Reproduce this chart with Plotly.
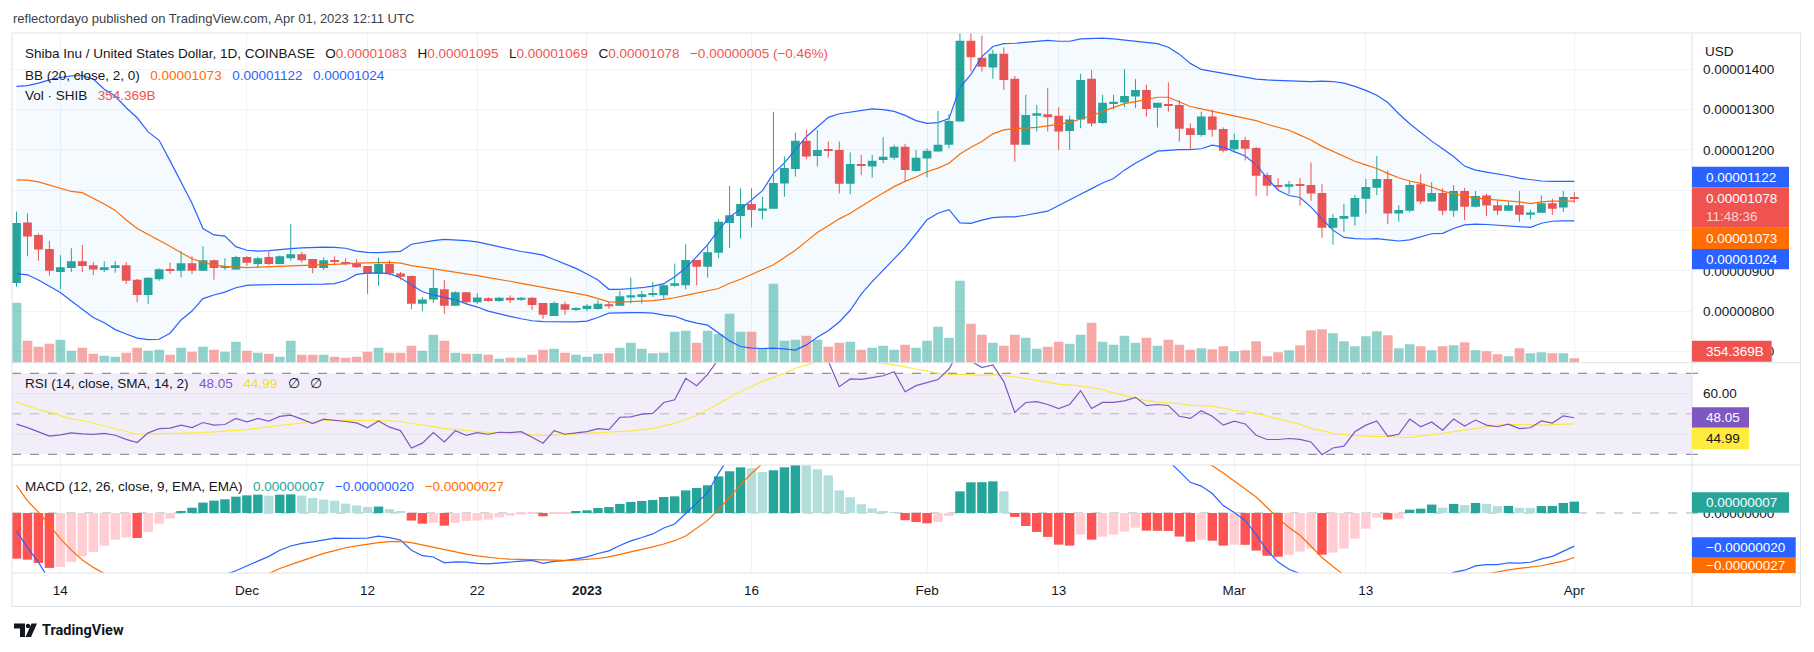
import plotly.graph_objects as go
import pandas as pd

# ---------------- data (prices in units of 1e-8 USD) ----------------
DATES = pd.date_range("2022-11-10", "2023-04-01", freq="D")
PRICE_UNIT = 1e-8

OPEN = [870,1020,989,954,897,907,924,914,902,907,914,878,840,879,904,900,919,900,926,907,
        903,934,917,934,917,931,941,929,907,927,922,919,912,893,917,893,887,818,829,854,
        813,847,822,832,825,833,828,833,820,788,817,803,805,805,817,813,834,835,840,839,
        863,864,927,910,945,1019,1036,1066,1049,1054,1117,1153,1223,1185,1201,1200,1116,1165,1159,1175,
        1181,1208,1148,1179,1196,1213,1271,1471,1429,1405,1439,1377,1213,1285,1289,1285,1247,1276,1377,1267,
        1316,1318,1333,1349,1305,1313,1312,1254,1237,1283,1252,1202,1225,1205,1138,1113,1109,1115,1113,1093,
        1007,1029,1034,1079,1106,1128,1042,1049,1115,1072,1093,1049,1098,1059,1087,1063,1049,1063,1039,1044,
        1068,1057,1083]
HIGH = [1047,1043,993,974,939,956,964,922,924,924,922,880,884,906,920,949,936,961,928,931,
        937,937,935,948,938,1016,947,929,933,936,931,929,912,933,926,897,888,835,902,877,
        849,847,844,835,835,839,835,835,820,824,823,810,817,827,823,850,883,850,872,867,
        918,966,927,966,1028,1111,1105,1105,1084,1295,1184,1243,1250,1250,1221,1221,1194,1188,1188,1232,
        1213,1215,1200,1204,1297,1289,1500,1500,1484,1449,1455,1384,1337,1312,1354,1306,1285,1389,1399,1337,
        1337,1401,1376,1362,1317,1368,1324,1266,1295,1300,1256,1241,1232,1208,1144,1130,1123,1130,1169,1115,
        1041,1066,1088,1128,1185,1148,1063,1123,1140,1120,1105,1113,1106,1098,1091,1076,1072,1098,1051,1087,
        1079,1098,1095]
LOW = [860,936,925,888,854,897,897,889,897,895,867,822,818,875,892,884,892,900,878,902,
       902,912,908,914,917,925,920,894,902,914,914,907,843,863,888,878,805,800,820,793,
       813,818,818,823,823,820,825,803,781,788,791,800,800,803,806,813,819,819,835,830,
       860,854,864,883,931,957,980,1008,1028,1054,1084,1134,1177,1159,1181,1092,1090,1138,1131,1167,
       1175,1121,1146,1132,1196,1204,1271,1395,1395,1377,1349,1171,1213,1246,1246,1200,1200,1254,1258,1265,
       1301,1306,1304,1283,1256,1295,1221,1200,1233,1233,1194,1193,1174,1086,1086,1099,1091,1062,1074,982,
       965,997,1012,1042,1088,1016,1022,1045,1066,1072,1038,1034,1026,1057,1036,1038,1049,1022,1028,1044,
       1039,1046,1069]
CLOSE = [1019,985,953,900,909,924,912,903,909,914,875,840,883,904,900,919,900,926,907,910,
         934,920,931,917,936,941,926,907,926,922,917,909,893,917,893,885,818,829,857,813,
         847,822,834,825,833,827,833,815,791,820,803,807,813,818,812,837,839,842,842,864,
         869,927,910,946,1022,1038,1066,1051,1055,1118,1155,1223,1184,1200,1199,1116,1165,1161,1173,1183,
         1208,1150,1181,1198,1213,1272,1471,1430,1407,1439,1374,1213,1287,1291,1281,1246,1276,1374,1266,1317,
         1320,1334,1349,1302,1317,1310,1253,1237,1283,1250,1198,1225,1203,1136,1111,1109,1115,1111,1092,1007,
         1031,1036,1081,1108,1128,1042,1051,1113,1072,1093,1049,1098,1059,1086,1062,1049,1063,1039,1045,1068,
         1054,1083,1078]
VOLUME_B = [4914,1802,1310,1556,1884,983,1229,737,573,491,819,1229,983,1065,655,1229,901,1310,1065,901,
            1720,983,819,737,491,1802,655,655,655,491,410,491,901,1229,819,819,1392,983,2293,1802,
            819,737,737,655,328,410,410,655,1065,1147,819,655,491,737,764,1229,1638,1147,764,819,
            2539,2621,1638,2621,2348,4013,2539,2539,1147,6470,1802,1884,2211,1884,1310,1638,1720,1065,1229,1392,
            1065,1474,1229,1802,2948,2048,6716,3194,2293,1638,1392,2293,2048,1147,1310,1720,1556,2293,3276,1720,
            1474,2211,1638,2048,1392,1884,1474,1065,1174,1092,1338,928,1010,1747,519,846,1010,1420,2648,2730,
            2402,1747,1338,2157,2566,2239,1174,1502,1338,1010,1338,1420,1665,1010,928,683,519,1174,764,846,
            764,764,354.369]
BB_UPPER = [1358,1360,1366,1374,1380,1384,1385,1376,1351,1334,1305,1280,1245,1224,1173,1120,1068,1005,989,986,
            960,951,949,950,953,955,957,958,959,958,956,949,946,945,946,948,966,971,975,978,
            977,975,972,966,960,953,948,944,939,928,917,906,892,877,854,854,856,858,862,868,
            885,907,935,965,1001,1034,1053,1075,1099,1142,1168,1201,1233,1257,1281,1290,1294,1299,1302,1300,
            1296,1286,1273,1266,1268,1278,1355,1388,1432,1457,1464,1465,1467,1470,1472,1470,1470,1476,1477,1478,
            1476,1473,1469,1467,1464,1455,1438,1415,1400,1395,1390,1385,1380,1376,1374,1373,1372,1370,1370,1371,
            1370,1366,1358,1348,1336,1318,1290,1265,1243,1222,1203,1184,1160,1150,1145,1141,1136,1130,1126,1123,
            1122,1122,1122]
BB_BASIS = [1126,1125,1121,1113,1106,1097,1094,1081,1066,1050,1026,1005,991,977,961,945,930,921,914,911,
            909,908,909,910,911,912,913,913,914,915,917,919,920,921,921,919,913,909,905,901,
            897,892,888,883,879,874,869,864,859,854,850,845,839,831,823,822,823,824,826,829,
            833,839,845,851,856,869,879,891,904,915,933,951,973,995,1012,1029,1043,1061,1077,1093,
            1109,1122,1133,1146,1155,1167,1190,1207,1221,1240,1250,1253,1254,1256,1260,1264,1268,1277,1285,1296,
            1306,1315,1320,1325,1331,1331,1320,1308,1302,1296,1290,1284,1279,1273,1264,1256,1249,1237,1225,1209,
            1196,1183,1172,1163,1154,1142,1131,1123,1117,1108,1098,1091,1086,1081,1078,1076,1074,1071,1067,1071,
            1073,1073,1073]
BB_LOWER = [893,890,877,862,846,825,804,784,771,754,743,733,729,730,745,778,800,831,840,847,
            858,864,865,866,866,866,866,867,867,868,876,891,894,895,893,882,865,848,840,834,
            828,818,810,800,793,787,781,776,774,774,773,773,775,784,795,796,796,796,795,790,
            787,777,770,765,745,726,712,708,707,708,706,703,716,735,751,773,802,842,873,902,
            930,958,992,1027,1043,1052,1019,1018,1026,1032,1034,1034,1038,1043,1048,1062,1075,1090,1104,1118,
            1129,1150,1167,1183,1197,1199,1201,1201,1203,1212,1207,1196,1185,1163,1130,1100,1087,1082,1058,1029,
            1001,983,980,979,980,977,974,977,985,992,993,1005,1014,1016,1015,1013,1011,1009,1008,1018,
            1023,1024,1024]
RSI = [44.9,43.2,41.1,39.0,39.6,40.6,40.1,39.8,40.3,39.4,37.4,35.8,40.6,42.7,42.9,44.4,43.2,45.7,44.4,44.7,
       47.7,46.0,47.7,46.4,48.7,49.3,47.4,45.2,47.4,46.9,46.2,45.5,43.1,46.5,43.4,41.7,33.1,35.5,40.7,36.1,
       41.6,39.4,40.7,39.9,40.9,40.7,41.2,38.4,35.5,41.7,39.9,40.6,41.2,42.7,42.2,48.3,48.5,49.8,50.2,55.6,
       56.9,67.5,63.9,69.5,77,79,81,79,79,85,86,88,83,82,76,63.4,67.2,67.0,67.9,68.8,
       70.8,60.9,63.9,65.5,66.9,72.1,82,76,72.8,74.1,65.9,50.7,55.6,56.0,54.6,52.6,54.6,61.4,52.6,55.6,
       55.6,56.4,58.1,54.0,54.6,54.1,48.8,47.7,51.5,48.8,44.4,46.4,45.0,39.4,37.3,37.3,37.8,37.4,36.1,29.8,
       33.1,34.0,41.1,44.4,46.5,38.9,39.9,47.4,43.6,46.0,41.9,47.4,44.0,46.9,44.4,43.6,44.9,42.7,43.1,46.5,
       45.4,49.0,48.05]
RSI_MA = [55.8,54.0,52.1,50.8,49.0,47.4,46.7,45.4,44.0,42.7,41.2,39.9,40.1,40.2,40.2,40.4,40.6,40.7,41.1,41.4,
          41.7,42.2,42.9,43.5,44.4,45.0,45.5,46.2,46.7,46.9,46.9,46.9,46.9,46.7,46.5,46.2,45.2,44.5,43.7,42.7,
          42.2,41.7,41.2,40.9,40.7,40.6,40.4,39.6,39.2,39.5,39.8,40.0,40.2,40.4,40.7,41.1,41.6,42.2,42.8,44.0,
          45.3,47.2,49.3,52.0,55.0,58.0,61.0,63.5,66.0,68.0,70.0,72.5,74.2,75.6,76.5,77.0,77.0,76.5,75.8,75.0,
          74.2,73.2,72.0,71.2,70.0,69.5,69.5,69.3,68.8,69.3,68.9,68.3,67.3,66.3,65.6,64.7,64.2,63.8,62.9,61.9,
          60.3,59.0,57.7,56.5,55.8,55.5,55.0,54.3,54.1,53.8,52.8,51.7,51.0,50.2,48.8,47.5,46.2,44.8,42.7,41.7,
          40.3,39.6,39.2,39.0,38.8,38.6,38.2,38.3,39.0,39.6,40.4,41.2,41.8,42.7,43.6,44.4,44.8,44.6,44.4,44.4,
          44.7,45.0,44.99]
MACD = [-11.0,-21.0,-29.8,-40.8,-48.2,-52.2,-54.8,-56.6,-56.8,-56.7,-57.9,-60.2,-58.0,-53.8,-51.0,-46.3,-44.1,-40.5,-38.8,-37.5,
        -35.0,-32.3,-29.2,-26.3,-22.6,-20.0,-18.4,-17.5,-16.4,-15.3,-15.4,-15.3,-15.2,-14.1,-15.0,-16.4,-22.6,-25.9,-26.7,-30.2,
        -29.7,-29.8,-30.6,-30.9,-30.2,-29.6,-29.2,-28.8,-30.5,-29.3,-28.9,-27.8,-26.6,-24.6,-23.0,-19.7,-16.9,-14.9,-12.7,-9.1,
        -6.7,-0.3,5.7,12.3,24.2,35.0,44.7,51.1,54.8,61.9,69.7,78.5,85.0,88.5,90.8,85.7,83.5,81.3,79.8,78.7,
        77.9,72.1,69.5,67.2,66.5,69.7,87.1,96.6,100.7,105.2,102.1,86.1,78.6,72.5,65.0,56.3,51.2,53.9,46.8,45.2,
        42.9,41.7,41.6,37.3,34.7,31.6,25.2,18.6,16.3,11.8,4.5,0.3,-4.5,-13.1,-22.6,-29.8,-34.1,-36.9,-41.8,-52.3,
        -56.5,-59.1,-56.6,-53.0,-47.3,-49.0,-48.7,-43.0,-42.1,-38.7,-39.8,-36.0,-34.7,-32.1,-31.3,-31.3,-30.2,-30.4,-29.9,-27.8,
        -26.3,-23.1,-20.1]
SIGNAL = [16.7,7.3,0.5,-7.5,-15.5,-22.5,-28.5,-33.0,-37.0,-40.5,-43.0,-45.0,-46.5,-47.3,-47.6,-47.5,-47.3,-46.8,-46.3,-45.8,
          -44.9,-43.0,-40.3,-36.8,-33.7,-31.3,-28.9,-26.6,-24.5,-22.8,-21.1,-19.9,-18.9,-18.0,-17.4,-17.2,-18.0,-19.4,-20.8,-22.5,
          -23.8,-25.0,-26.0,-26.9,-27.6,-28.0,-28.2,-28.3,-28.5,-28.7,-28.7,-28.6,-28.2,-27.6,-26.6,-25.2,-23.6,-22.2,-20.6,-18.8,
          -16.8,-14.0,-9.5,-4.5,2.0,9.7,17.0,24.0,30.0,36.0,42.0,49.0,56.0,62.0,68.0,72.0,74.0,76.0,77.0,77.5,
          77.5,76.5,75.0,73.5,72.0,71.5,74.0,78.0,82.0,86.0,89.0,88.5,86.5,84.0,79.5,75.5,71.0,67.0,63.0,59.5,
          56.0,53.0,50.5,48.0,45.5,42.5,39.5,36.0,32.5,28.6,24.3,19.5,14.8,9.7,3.3,-3.3,-8.8,-13.5,-20.2,-27.0,
          -32.5,-37.5,-41.0,-43.5,-44.5,-45.0,-45.3,-45.0,-44.7,-43.8,-43.0,-41.5,-39.5,-38.2,-36.8,-35.5,-34.5,-33.6,-33.0,-32.0,
          -30.6,-29.2,-27.0]
HIST = [-27.7,-28.3,-30.3,-33.3,-32.7,-29.7,-26.3,-23.6,-19.8,-16.2,-14.9,-15.2,-11.5,-6.5,-3.4,1.2,3.2,6.3,7.5,8.3,
        9.9,10.7,11.1,10.5,11.1,11.3,10.5,9.1,8.1,7.5,5.7,4.6,3.7,3.9,2.4,0.8,-4.6,-6.5,-5.9,-7.7,
        -5.9,-4.8,-4.6,-4.0,-2.6,-1.6,-1.0,-0.5,-2.0,-0.6,-0.2,0.8,1.6,3.0,3.6,5.5,6.7,7.3,7.9,9.7,
        10.1,13.7,15.2,16.8,22.2,25.3,27.7,27.1,24.8,25.9,27.7,29.5,29.0,26.5,22.8,13.7,9.5,5.3,2.8,1.2,
        0.4,-4.4,-5.5,-6.3,-5.5,-1.8,13.1,18.6,18.7,19.2,13.1,-2.4,-7.9,-11.5,-14.5,-19.2,-19.8,-13.1,-16.2,-14.3,
        -13.1,-11.3,-8.9,-10.7,-10.8,-10.9,-14.3,-17.4,-16.2,-16.8,-19.8,-19.2,-19.3,-22.8,-25.9,-26.5,-25.3,-23.4,-21.6,-25.3,
        -24.0,-21.6,-15.6,-9.5,-2.8,-4.0,-3.4,2.0,2.6,5.1,3.2,5.5,4.8,6.1,5.5,4.2,4.3,3.2,3.1,4.2,
        4.3,6.1,6.9]

PRICE_TICKS = [700, 800, 900, 1000, 1100, 1200, 1300, 1400]
PRICE_TICKS_HIDDEN = [1000, 1100]          # covered by the price-scale labels in the reference
RSI_TICKS = [40, 60]
RSI_TICKS_HIDDEN = [40]
MACD_TICKS = [0]
TIME_TICKS = ["2022-11-14", "2022-12-01", "2022-12-12", "2022-12-22", "2023-01-01", "2023-01-16",
              "2023-02-01", "2023-02-13", "2023-03-01", "2023-03-13", "2023-04-01"]
TIME_LABELS = ["14", "Dec", "12", "22", "<b>2023</b>", "16", "Feb", "13", "Mar", "13", "Apr"]

for arr in (OPEN, HIGH, LOW, CLOSE, VOLUME_B, BB_UPPER, BB_BASIS, BB_LOWER, RSI, RSI_MA, MACD, SIGNAL, HIST):
    assert len(arr) == len(DATES), len(arr)

# ---------------- style ----------------
UP, DOWN = "#26a69a", "#ef5350"
VOL_UP, VOL_DOWN = "rgba(38,166,154,0.5)", "rgba(239,83,80,0.5)"
BLUE, ORANGE, PURPLE, YELLOW = "#2962ff", "#ff6d00", "#7e57c2", "#fde93e"
TXT = "#131722"
FRAME = "#e0e3eb"
GRID = "#f0f3fa"
FONT = "Liberation Sans, Arial, sans-serif"
FS = 13.5

W, H = 1814, 652
ML, MR, MT, MB = 12, 122, 33, 79
PW, PH = W - ML - MR, H - MT - MB
def px(x):
    return (x - ML) / PW
def py(y):
    return (H - MB - y) / PH

DAY_MS = 86400000
base = DATES[0]
x_range = [(base - pd.Timedelta(days=0.41)).isoformat(), (base + pd.Timedelta(days=152.73)).isoformat()]

fig = go.Figure()

# volume (base axis y, drawn below price traces)
vol_colors = [VOL_UP if c >= o else VOL_DOWN for o, c in zip(OPEN, CLOSE)]
fig.add_trace(go.Bar(x=DATES, y=VOLUME_B, marker=dict(color=vol_colors, line=dict(width=0)),
                     width=0.88 * DAY_MS, xaxis="x", yaxis="y"))

# Bollinger bands (price axis y4)
fig.add_trace(go.Scatter(x=DATES, y=BB_UPPER, mode="lines", line=dict(color=BLUE, width=1.2),
                         xaxis="x", yaxis="y4"))
fig.add_trace(go.Scatter(x=DATES, y=BB_LOWER, mode="lines", line=dict(color=BLUE, width=1.2),
                         fill="tonexty", fillcolor="rgba(33,150,243,0.05)", xaxis="x", yaxis="y4"))
fig.add_trace(go.Scatter(x=DATES, y=BB_BASIS, mode="lines", line=dict(color=ORANGE, width=1.2),
                         xaxis="x", yaxis="y4"))

# candles: wicks
for up in (True, False):
    wx, wy = [], []
    for d, o, h, l, c in zip(DATES, OPEN, HIGH, LOW, CLOSE):
        if (c >= o) == up:
            wx += [d, d, None]
            wy += [l, h, None]
    fig.add_trace(go.Scatter(x=wx, y=wy, mode="lines", line=dict(color=UP if up else DOWN, width=1),
                             xaxis="x", yaxis="y4"))
# candles: bodies
body_base = [min(o, c) for o, c in zip(OPEN, CLOSE)]
body_h = [max(abs(c - o), 2.5) for o, c in zip(OPEN, CLOSE)]
body_col = [UP if c >= o else DOWN for o, c in zip(OPEN, CLOSE)]
fig.add_trace(go.Bar(x=DATES, y=body_h, base=body_base, marker=dict(color=body_col, line=dict(width=0)),
                     width=0.8 * DAY_MS, xaxis="x", yaxis="y4"))

# RSI pane
fig.add_trace(go.Scatter(x=DATES, y=RSI_MA, mode="lines", line=dict(color=YELLOW, width=1.2), xaxis="x", yaxis="y2"))
fig.add_trace(go.Scatter(x=DATES, y=RSI, mode="lines", line=dict(color=PURPLE, width=1.2), xaxis="x", yaxis="y2"))

# MACD pane
hist_col = []
for i, h in enumerate(HIST):
    prev = HIST[i - 1] if i > 0 else h
    if h >= 0:
        hist_col.append("#26a69a" if h > prev else "#b2dfdb")
    else:
        hist_col.append("#ffcdd2" if h > prev else "#ff5252")
fig.add_trace(go.Bar(x=DATES, y=HIST, marker=dict(color=hist_col, line=dict(width=0)),
                     width=0.86 * DAY_MS, xaxis="x", yaxis="y3"))
fig.add_trace(go.Scatter(x=DATES, y=MACD, mode="lines", line=dict(color=BLUE, width=1.2), xaxis="x", yaxis="y3"))
fig.add_trace(go.Scatter(x=DATES, y=SIGNAL, mode="lines", line=dict(color=ORANGE, width=1.2), xaxis="x", yaxis="y3"))

MAIN_DOM = [py(362.7), 1]
RSI_DOM = [py(465), py(362.7)]
MACD_DOM = [0, py(465)]

axis_font = dict(family=FONT, size=FS, color=TXT)
fig.update_layout(
    width=W, height=H, margin=dict(l=ML, r=MR, t=MT, b=MB),
    paper_bgcolor="white", plot_bgcolor="white", showlegend=False, barmode="overlay",
    hovermode=False, font=dict(family=FONT, size=FS, color=TXT),
    xaxis=dict(type="date", range=x_range, domain=[0, 1], anchor="y3", tickvals=TIME_TICKS,
               ticktext=TIME_LABELS, showgrid=True, gridcolor=GRID, gridwidth=1, zeroline=False,
               showline=False, ticks="", tickfont=axis_font, ticklabelstandoff=7),
    yaxis=dict(domain=MAIN_DOM, range=[0, 27000], visible=False, fixedrange=True),
    yaxis4=dict(overlaying="y", side="right", anchor="x", range=[671.8, 1490.5],
                tickvals=PRICE_TICKS,
                ticktext=["" if v in PRICE_TICKS_HIDDEN else f"{v * PRICE_UNIT:.8f}" for v in PRICE_TICKS],
                showgrid=True, gridcolor=GRID, zeroline=False, showline=False, ticks="",
                tickfont=axis_font, ticklabelstandoff=10),
    yaxis2=dict(domain=RSI_DOM, range=[24.72, 75.23], side="right", anchor="x",
                tickvals=RSI_TICKS,
                ticktext=["" if v in RSI_TICKS_HIDDEN else f"{v:.2f}" for v in RSI_TICKS], showgrid=True,
                gridcolor="#e6e3ef", zeroline=False, showline=False, ticks="", tickfont=axis_font,
                ticklabelstandoff=10),
    yaxis3=dict(domain=MACD_DOM, range=[-36.4, 29.1], side="right", anchor="x",
                tickvals=MACD_TICKS, ticktext=[f"{v * PRICE_UNIT:.8f}" for v in MACD_TICKS],
                showgrid=False, zeroline=False, showline=False, ticks="", tickfont=axis_font,
                ticklabelstandoff=10),
)

shapes = []
ann = []
# RSI band and levels
shapes.append(dict(type="rect", xref="paper", yref="y2", x0=0, x1=1, y0=30, y1=70,
                   fillcolor="rgba(126,87,194,0.1)", line=dict(width=0), layer="below"))
for lvl, col in ((70, "#787b86"), (50, "rgba(120,123,134,0.5)"), (30, "#787b86")):
    shapes.append(dict(type="line", xref="paper", yref="y2", x0=0, x1=1, y0=lvl, y1=lvl,
                       line=dict(color=col, width=1, dash="dash"), layer="below"))
    shapes.append(dict(type="line", xref="paper", yref="y2", x0=1, x1=px(1698), y0=lvl, y1=lvl,
                       line=dict(color="#787b86", width=1)))
shapes.append(dict(type="line", xref="paper", yref="y3", x0=0, x1=1, y0=0, y1=0,
                   line=dict(color="rgba(120,123,134,0.6)", width=1, dash="dash"), layer="below"))
shapes.append(dict(type="line", xref="paper", yref="y3", x0=1, x1=px(1698), y0=0, y1=0,
                   line=dict(color="#787b86", width=1)))

# frame and separators
XR = 1800.5
YB = 606.5
shapes.append(dict(type="rect", xref="paper", yref="paper", x0=px(ML), x1=px(XR), y0=py(YB), y1=py(MT),
                   line=dict(color=FRAME, width=1)))
shapes.append(dict(type="line", xref="paper", yref="paper", x0=1, x1=1, y0=py(YB), y1=py(MT),
                   line=dict(color=FRAME, width=1)))
for yy in (362.7, 465, H - MB):
    shapes.append(dict(type="line", xref="paper", yref="paper", x0=px(ML), x1=px(XR), y0=py(yy), y1=py(yy),
                       line=dict(color=FRAME, width=1)))

# price-scale labels
def label_box(y0, y1, x1, color, text, tcolor="white"):
    shapes.append(dict(type="rect", xref="paper", yref="paper", x0=1, x1=px(x1), y0=py(y1), y1=py(y0),
                       fillcolor=color, line=dict(width=0), layer="above"))
    ann.append(dict(xref="paper", yref="paper", x=px(1704), y=py((y0 + y1) / 2), xanchor="left",
                    yanchor="middle", text=text, showarrow=False, align="left",
                    font=dict(family=FONT, size=FS, color=tcolor)))

def fmt(v):
    s = f"{abs(v) * PRICE_UNIT:.8f}"
    return ("\u2212" + s) if v < 0 else s

label_box(166.7, 187.3, 1789, BLUE, fmt(BB_UPPER[-1]))
label_box(187.3, 227.7, 1789, DOWN, fmt(CLOSE[-1]) + "<br><span style='color:#fbd3d2'>11:48:36</span>")
label_box(227.7, 249.0, 1789, ORANGE, fmt(BB_BASIS[-1]))
label_box(249.0, 269.3, 1789, BLUE, fmt(BB_LOWER[-1]))
label_box(340.7, 361.7, 1771.7, DOWN, f"{VOLUME_B[-1]:.3f}B")
label_box(407.3, 427.7, 1749, PURPLE, f"{RSI[-1]:.2f}")
label_box(427.7, 449.3, 1749, "#ffeb3b", f"{RSI_MA[-1]:.2f}", tcolor=TXT)
label_box(492.3, 512.7, 1789, UP, fmt(round(HIST[-1])))
label_box(537.3, 557.7, 1795.7, BLUE, fmt(round(MACD[-1])))
label_box(557.7, 573.0, 1795.7, ORANGE, fmt(round(SIGNAL[-1])))

ann.append(dict(xref="paper", yref="paper", x=px(1703), y=py(51), xanchor="left", yanchor="middle",
                text="USD", showarrow=False, font=dict(family=FONT, size=FS, color=TXT)))

# header and legends
SP = "\u2002\u00a0"
def col(c, t):
    return f"<span style='color:{c}'>{t}</span>"

ann.append(dict(xref="paper", yref="paper", x=px(11), y=py(18.5), xanchor="left", yanchor="middle",
                text="reflectordayo published on TradingView.com, Apr 01, 2023 12:11 UTC", showarrow=False,
                font=dict(family=FONT, size=13, color="#3b3f4a")))
chg = CLOSE[-1] - CLOSE[-2]
pct = chg / CLOSE[-2] * 100
line1 = ("Shiba Inu / United States Dollar, 1D, COINBASE" + SP +
         "O" + col(DOWN, fmt(OPEN[-1])) + SP + "H" + col(DOWN, fmt(HIGH[-1])) + SP +
         "L" + col(DOWN, fmt(LOW[-1])) + SP + "C" + col(DOWN, fmt(CLOSE[-1])) + SP +
         col(DOWN, fmt(chg) + " (" + ("\u2212" if pct < 0 else "") + f"{abs(pct):.2f}%)"))
line2 = ("BB (20, close, 2, 0)" + SP + col(ORANGE, fmt(BB_BASIS[-1])) + SP + col(BLUE, fmt(BB_UPPER[-1])) +
         SP + col(BLUE, fmt(BB_LOWER[-1])))
line3 = "Vol \u00b7 SHIB" + SP + col(DOWN, f"{VOLUME_B[-1]:.3f}B")
line_rsi = ("RSI (14, close, SMA, 14, 2)" + SP + col(PURPLE, f"{RSI[-1]:.2f}") + SP +
            col("#f5dd2a", f"{RSI_MA[-1]:.2f}") + SP + "\u2205" + SP + "\u2205")
line_macd = ("MACD (12, 26, close, 9, EMA, EMA)" + SP + col(UP, fmt(round(HIST[-1]))) + SP +
             col(BLUE, fmt(round(MACD[-1]))) + SP + col(ORANGE, fmt(round(SIGNAL[-1]))))
for txt, yy in ((line1, 54), (line2, 75.7), (line3, 95.7), (line_rsi, 383.7), (line_macd, 486)):
    ann.append(dict(xref="paper", yref="paper", x=px(22.5), y=py(yy), xanchor="left", yanchor="middle",
                    text=txt, showarrow=False, font=dict(family=FONT, size=FS, color=TXT)))

# TradingView logo + wordmark
def pth(points):
    return "M " + " L ".join(f"{px(x):.5f},{py(y):.5f}" for x, y in points) + " Z"
shapes.append(dict(type="path", xref="paper", yref="paper",
                   path=pth([(14, 623.5), (25, 623.5), (25, 637), (20, 637), (20, 628.5), (14, 628.5)]),
                   fillcolor=TXT, line=dict(width=0)))
shapes.append(dict(type="circle", xref="paper", yref="paper", x0=px(25.8), x1=px(30.2), y0=py(628.2),
                   y1=py(623.8), fillcolor=TXT, line=dict(width=0)))
shapes.append(dict(type="path", xref="paper", yref="paper",
                   path=pth([(31.5, 623.5), (37, 623.5), (31, 637), (25.5, 637)]),
                   fillcolor=TXT, line=dict(width=0)))
ann.append(dict(xref="paper", yref="paper", x=px(40), y=py(630.5), xanchor="left", yanchor="middle",
                text="<b>TradingView</b>", showarrow=False,
                font=dict(family="Roboto, Liberation Sans, sans-serif", size=14.5, color=TXT)))

fig.update_layout(shapes=shapes, annotations=ann)
fig.write_html("out.html")
